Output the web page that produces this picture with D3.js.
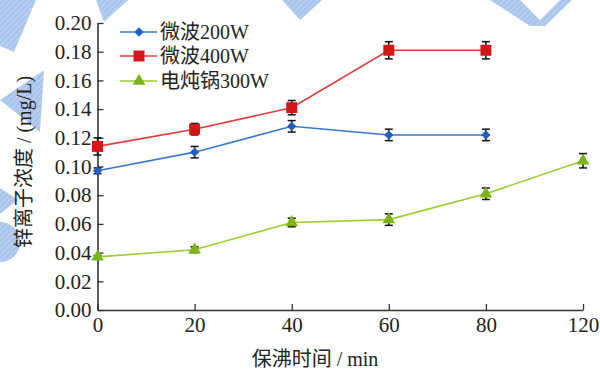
<!DOCTYPE html>
<html>
<head>
<meta charset="utf-8">
<script src="https://cdn.jsdelivr.net/npm/d3@7"></script>
<style>
  html, body { margin: 0; padding: 0; background: #fff; }
  svg { display: block; font-family: "Liberation Serif", "Noto Sans CJK SC", serif; }
</style>
</head>
<body>
<div id="chart"></div>
<script>
// categories on the x axis (evenly spaced, 120 sits where 100 would be)
const times = ['0', '20', '40', '60', '80', '120'];
const yTicks = [0, 0.02, 0.04, 0.06, 0.08, 0.10, 0.12, 0.14, 0.16, 0.18, 0.20];

const seriesNames = ['微波200W', '微波400W', '电炖锅300W'];
const mw200 = [0.097, 0.110, 0.128, 0.122, 0.122];
const mw200Err = [0.002, 0.004, 0.004, 0.004, 0.004];
const mw400 = [0.114, 0.126, 0.141, 0.181, 0.181];
const mw400Err = [0.006, 0.004, 0.005, 0.006, 0.006];
const pot300 = [0.037, 0.042, 0.061, 0.063, 0.081, 0.104];
const pot300Err = [0.001, 0.002, 0.003, 0.004, 0.004, 0.005];

const width = 600;
const height = 372;
const margin = { top: 23, right: 17, bottom: 62, left: 97.5 };

const svg = d3.select('#chart')
    .append('svg')
    .attr('width', width)
    .attr('height', height);

// faint watermark shapes behind the plot
const defs = svg.append('defs');
const pat = defs.append('pattern')
    .attr('id', 'hatch')
    .attr('width', 4)
    .attr('height', 4)
    .attr('patternUnits', 'userSpaceOnUse')
    .attr('patternTransform', 'rotate(45)');
pat.append('rect').attr('width', 4).attr('height', 4).attr('fill', '#a9c5ec');
pat.append('line').attr('x1', 0).attr('y1', 0).attr('x2', 0).attr('y2', 4)
    .attr('stroke', '#c9dbf4').attr('stroke-width', 1.5);

const wm = svg.append('g').attr('fill', 'url(#hatch)');
wm.append('path').attr('d', 'M0,0 L36,0 L14,52 L0,46 Z');
wm.append('path').attr('d', 'M96,0 L128,0 L104,22 Z');
wm.append('path').attr('d', 'M282,0 L322,0 L300,20 Z');
wm.append('path').attr('d', 'M490,0 L520,0 L540,20 L560,0 L572,0 L545,26 L530,26 Z');
wm.append('path').attr('d', 'M44,70 L40,132 L0,100 Z');
wm.append('path').attr('d', 'M0,188 L18,200 L0,214 Z');
wm.append('path').attr('d', 'M0,222 A20,20 0 0 1 0,262 Z');

const x = d3.scalePoint()
    .domain(times)
    .range([margin.left, width - margin.right]);

const y = d3.scaleLinear()
    .domain([0, 0.2])
    .range([height - margin.bottom, margin.top]);

const axisColor = '#333';

const yAxis = svg.append('g')
    .attr('transform', `translate(${margin.left},0)`)
    .call(d3.axisLeft(y)
        .tickValues(yTicks)
        .tickFormat(d3.format('.2f'))
        .tickSizeInner(-6)
        .tickSizeOuter(0)
        .tickPadding(6));

const xAxis = svg.append('g')
    .attr('transform', `translate(0,${height - margin.bottom})`)
    .call(d3.axisBottom(x)
        .tickSizeInner(-6)
        .tickSizeOuter(0)
        .tickPadding(6));

[xAxis, yAxis].forEach(a => {
    a.select('.domain').attr('stroke', axisColor).attr('stroke-width', 1.6);
    a.selectAll('.tick line').attr('stroke', axisColor).attr('stroke-width', 1.3);
    a.selectAll('.tick text')
        .attr('fill', '#222')
        .style('font-size', '21px')
        .style('font-family', '"Liberation Serif", serif');
});
xAxis.selectAll('.tick text').attr('dy', '0.75em');

svg.append('text')
    .attr('x', 315)
    .attr('y', 366)
    .attr('text-anchor', 'middle')
    .attr('fill', '#222')
    .style('font-size', '20px')
    .text('保沸时间 / min');

svg.append('text')
    .attr('transform', 'translate(31,162) rotate(-90)')
    .attr('text-anchor', 'middle')
    .attr('fill', '#222')
    .style('font-size', '20px')
    .text('锌离子浓度 / (mg/L)');

const series = [
    { name: seriesNames[0], values: mw200, errs: mw200Err, line: '#3a78cc', fill: '#1f5fc0', shape: d3.symbolDiamond2, size: 55 },
    { name: seriesNames[1], values: mw400, errs: mw400Err, line: '#e23a3a', fill: '#d41616', shape: d3.symbolSquare, size: 120 },
    { name: seriesNames[2], values: pot300, errs: pot300Err, line: '#9acd32', fill: '#7cb518', shape: d3.symbolTriangle, size: 70 }
];

series.forEach(s => {
    const pts = s.values.map((v, i) => ({ t: times[i], v, e: s.errs[i] }));
    const g = svg.append('g');

    g.append('path')
        .datum(pts)
        .attr('fill', 'none')
        .attr('stroke', s.line)
        .attr('stroke-width', 1.6)
        .attr('d', d3.line().x(d => x(d.t)).y(d => y(d.v)));

    const eb = g.selectAll('.err').data(pts).join('g')
        .attr('stroke', '#111')
        .attr('stroke-width', 1.5);
    eb.append('line')
        .attr('x1', d => x(d.t)).attr('x2', d => x(d.t))
        .attr('y1', d => y(d.v - d.e)).attr('y2', d => y(d.v + d.e));
    eb.append('line')
        .attr('x1', d => x(d.t) - 4).attr('x2', d => x(d.t) + 4)
        .attr('y1', d => y(d.v + d.e)).attr('y2', d => y(d.v + d.e));
    eb.append('line')
        .attr('x1', d => x(d.t) - 4).attr('x2', d => x(d.t) + 4)
        .attr('y1', d => y(d.v - d.e)).attr('y2', d => y(d.v - d.e));

    g.selectAll('.mk').data(pts).join('path')
        .attr('transform', d => `translate(${x(d.t)},${y(d.v)})`)
        .attr('d', d3.symbol(s.shape, s.size))
        .attr('fill', s.fill);
});

// legend
const legend = svg.append('g');
const legendY = [32, 56, 81];
series.forEach((s, i) => {
    const row = legend.append('g').attr('transform', `translate(120,${legendY[i]})`);
    row.append('line')
        .attr('x1', 0).attr('x2', 37)
        .attr('stroke', s.line).attr('stroke-width', 1.6);
    row.append('path')
        .attr('transform', 'translate(19,0)')
        .attr('d', d3.symbol(s.shape, s.size))
        .attr('fill', s.fill);
    row.append('text')
        .attr('x', 40)
        .attr('dy', '0.35em')
        .attr('fill', '#222')
        .style('font-size', '20px')
        .text(s.name);
});
</script>
</body>
</html>
